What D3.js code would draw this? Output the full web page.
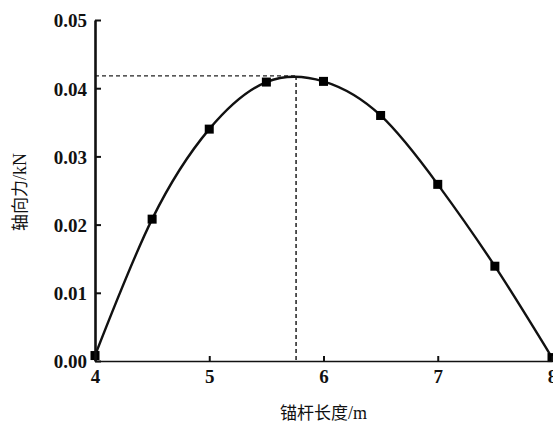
<!DOCTYPE html>
<html>
<head>
<meta charset="utf-8">
<script src="https://cdn.jsdelivr.net/npm/d3@7"></script>
<style>
  body { margin: 0; background: #fff; }
  .tick text { font-family: "Liberation Serif", "Times New Roman", serif; font-weight: bold; font-size: 19px; fill: #111; }
</style>
</head>
<body>
<div class="chart"></div>
<script>
var svgWidth = 553;
var svgHeight = 425;

var margin = { top: 20, right: 1, bottom: 64, left: 95 };
var width = svgWidth - margin.left - margin.right;
var height = svgHeight - margin.top - margin.bottom;

// data
var lengths = [4, 4.5, 5, 5.5, 6, 6.5, 7, 7.5, 8];
var forces = [0.0008, 0.0208, 0.034, 0.0409, 0.041, 0.036, 0.0259, 0.0139, 0.0005];
var peak = [5.76, 0.0418];
var xTicks = [4, 5, 6, 7, 8];
var yTicks = [0, 0.01, 0.02, 0.03, 0.04, 0.05];

var svg = d3.select(".chart").append("svg")
  .attr("width", svgWidth)
  .attr("height", svgHeight);

var chartGroup = svg.append("g")
  .attr("transform", `translate(${margin.left}, ${margin.top})`);

var x = d3.scaleLinear().domain([4, 8]).range([0, width]);
var y = d3.scaleLinear().domain([0, 0.05]).range([height, 0]);

var data = lengths.map((d, i) => ({ x: d, y: forces[i] }));

// dashed guide lines to the peak
chartGroup.append("line")
  .attr("x1", 0).attr("x2", x(peak[0]))
  .attr("y1", y(peak[1])).attr("y2", y(peak[1]))
  .attr("stroke", "#222").attr("stroke-width", 1.3)
  .attr("stroke-dasharray", "4,3");
chartGroup.append("line")
  .attr("x1", x(peak[0])).attr("x2", x(peak[0]))
  .attr("y1", y(peak[1])).attr("y2", height)
  .attr("stroke", "#444").attr("stroke-width", 1.8)
  .attr("stroke-dasharray", "4,3");

// fitted curve
var line = d3.line()
  .x(d => x(d.x))
  .y(d => y(d.y))
  .curve(d3.curveNatural);

chartGroup.append("path")
  .datum(data)
  .attr("fill", "none")
  .attr("stroke", "#111")
  .attr("stroke-width", 2.4)
  .attr("d", line);

// square markers
chartGroup.selectAll("rect.pt")
  .data(data)
  .enter()
  .append("rect")
  .attr("class", "pt")
  .attr("x", d => x(d.x) - 4.5)
  .attr("y", d => y(d.y) - 4.5)
  .attr("width", 9)
  .attr("height", 9)
  .attr("fill", "#000");

// axes, ticks pointing inward
var bottomAxis = d3.axisBottom(x).tickValues(xTicks).tickFormat(d3.format("d"))
  .tickSizeInner(-5).tickSizeOuter(0).tickPadding(9);
var leftAxis = d3.axisLeft(y).tickValues(yTicks).tickFormat(d3.format(".2f"))
  .tickSizeInner(-6).tickSizeOuter(0).tickPadding(8);

var xAxis = chartGroup.append("g")
  .attr("transform", `translate(0, ${height})`)
  .call(bottomAxis);
xAxis.select(".domain").attr("stroke", "#111").attr("stroke-width", 1.6);
xAxis.selectAll(".tick line").attr("stroke", "#111").attr("stroke-width", 2);

var yAxis = chartGroup.append("g")
  .call(leftAxis);
yAxis.select(".domain").attr("stroke", "#111").attr("stroke-width", 2.6);
yAxis.selectAll(".tick line").attr("stroke", "#111").attr("stroke-width", 2);
yAxis.selectAll(".tick text").attr("dy", "0.36em");

// axis titles
svg.append("text")
  .attr("x", margin.left + x(6))
  .attr("y", 419)
  .attr("text-anchor", "middle")
  .style("font-size", "17px")
  .style("fill", "#111")
  .call(t => {
    t.append("tspan").style("font-family", "'Noto Sans CJK SC', sans-serif").text("锚杆长度");
    t.append("tspan").style("font-family", "'Liberation Serif', serif").style("font-size", "18px").text("/m");
  });

svg.append("text")
  .attr("transform", "translate(26, 192) rotate(-90)")
  .attr("text-anchor", "middle")
  .style("font-size", "17px")
  .style("fill", "#111")
  .call(t => {
    t.append("tspan").style("font-family", "'Noto Sans CJK SC', sans-serif").text("轴向力");
    t.append("tspan").style("font-family", "'Liberation Serif', serif").style("font-size", "18px").text("/kN");
  });
</script>
</body>
</html>
